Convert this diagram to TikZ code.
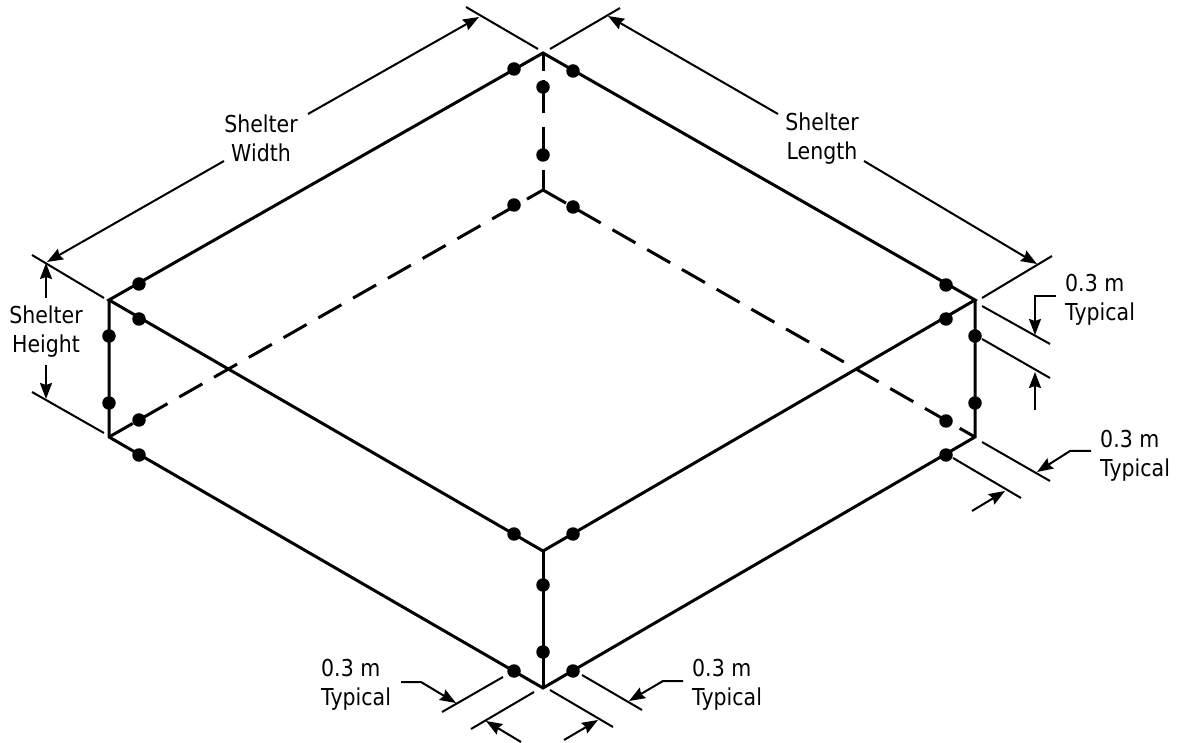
\documentclass[tikz,border=0pt]{standalone}
\usepackage{fontspec}
\setmainfont[FakeStretch=0.88]{DejaVu Sans}
\usetikzlibrary{arrows.meta}
\begin{document}
\begin{tikzpicture}
[x=1pt, y=-1pt, e/.style={circle,fill=black,inner sep=0pt,minimum size=13.5pt},
box/.style={line width=3pt,line join=miter}, ext/.style={line width=2pt},
dim/.style={line width=2pt,-{Stealth[length=16pt,width=12pt,inset=2pt]}},
lbl/.style={inner sep=0pt,align=center,font=\fontsize{23.3}{29}\selectfont},
lbll/.style={lbl,align=left,anchor=west}]
\useasboundingbox (0,0) rectangle (1179,743);
\coordinate(T) at (543,53);\coordinate(L) at (109,300);\coordinate(R) at (975,300);\coordinate(F) at (543,551);
\coordinate(K) at (543,190);\coordinate(LB) at (109,437);\coordinate(RB) at (975,437);\coordinate(B) at (543,688);
\draw[box](T)--(R)--(F)--(L)--cycle;\draw[box](L)--(LB)--(B)--(RB)--(R);\draw[box](F)--(B);
\draw[box,dash pattern=on 18pt off 9pt on 33pt off 14pt on 34pt off 9pt on 20pt off 9pt](T)--(K);
\draw[box,dash pattern=on 26.5pt off 13.5pt,dash phase=8pt](K)--(LB);
\draw[box,dash pattern=on 26.5pt off 13.5pt](K)--(RB);
\node(a) at (514,69)[e]{};\node(b) at (573,71)[e]{};\node(c) at (543,87)[e]{};\node(d) at (543,155)[e]{};
\node(f) at (514,205)[e]{};\node(g) at (573,207)[e]{};\node(h) at (139,284)[e]{};\node(i) at (139,319)[e]{};
\node(j) at (109,336)[e]{};\node(k) at (109,403)[e]{};\node(l) at (139,420)[e]{};\node(m) at (139,455)[e]{};
\node(n) at (946,285)[e]{};\node(o) at (946,319)[e]{};\node(p) at (975,336)[e]{};\node(q) at (975,403)[e]{};
\node(r) at (946,421)[e]{};\node(s) at (946,455)[e]{};\node(t) at (514,534)[e]{};\node(u) at (573,534)[e]{};
\node(v) at (543,585)[e]{};\node(w) at (543,652)[e]{};\node(x) at (514,671)[e]{};\node(y) at (573,671)[e]{};
\coordinate(e1a) at (466,7);\coordinate(e1b) at (538,49);\coordinate(e2a) at (620,8);\coordinate(e2b) at (550,49);
\coordinate(e3a) at (32,255);\coordinate(e3b) at (104,298);\coordinate(e4a) at (32,392);\coordinate(e4b) at (104,433);
\coordinate(e5a) at (1052,256);\coordinate(e5b) at (982,298);\coordinate(e6a) at (1050,344);\coordinate(e6b) at (982,306);
\coordinate(e7a) at (1050,378);\coordinate(e7b) at (982,339);\coordinate(e8a) at (1050,481);\coordinate(e8b) at (982,442);
\coordinate(e9a) at (1021,498);\coordinate(e9b) at (953,458);\coordinate(e10a) at (442,712);\coordinate(e10b) at (503,677);
\coordinate(e11a) at (471,729);\coordinate(e11b) at (534,692);\coordinate(e12a) at (613,727);\coordinate(e12b) at (550,690);
\coordinate(e13a) at (642,710);\coordinate(e13b) at (582,675);
\draw[ext](e1a)--(e1b);\draw[ext](e2a)--(e2b);\draw[ext](e3a)--(e3b);\draw[ext](e4a)--(e4b);\draw[ext](e5a)--(e5b);
\draw[ext](e6a)--(e6b);\draw[ext](e7a)--(e7b);\draw[ext](e8a)--(e8b);\draw[ext](e9a)--(e9b);\draw[ext](e10a)--(e10b);
\draw[ext](e11a)--(e11b);\draw[ext](e12a)--(e12b);\draw[ext](e13a)--(e13b);
\node[lbl](width) at (261,138){Shelter\\Width};\node[lbl](length) at (822,139){Shelter\\Length};
\node[lbl](height) at (46,332){Shelter\\Height};
\node[lbll](typ1) at (1065,300){0.3 m\\Typical};\node[lbll](typ2) at (1100,456){0.3 m\\Typical};
\node[lbll](typ3) at (321,685){0.3 m\\Typical};\node[lbll](typ4) at (692,685){0.3 m\\Typical};
\coordinate(w1) at (308,114);\coordinate(w2) at (479,17);\coordinate(w3) at (224,161);\coordinate(w4) at (47,262);
\coordinate(l1) at (778,114);\coordinate(l2) at (608,16);\coordinate(l3) at (864,161);\coordinate(l4) at (1037,264);
\coordinate(h1) at (46,298);\coordinate(h2) at (46,263);\coordinate(h3) at (46,365);\coordinate(h4) at (46,399);
\draw[dim](w1)--(w2);\draw[dim](w3)--(w4);\draw[dim](l1)--(l2);\draw[dim](l3)--(l4);\draw[dim](h1)--(h2);\draw[dim](h3)--(h4);
\coordinate(a1) at (1056,296);\coordinate(a2) at (1035,296);\coordinate(a3) at (1035,335);
\coordinate(a4) at (1035,410);\coordinate(a5) at (1035,372);
\coordinate(a6) at (1091,451);\coordinate(a7) at (1070,451);\coordinate(a8) at (1037,472);
\coordinate(a9) at (972,511);\coordinate(a10) at (1005,491);
\coordinate(b1) at (401,682);\coordinate(b2) at (421,682);\coordinate(b3) at (456,703);
\coordinate(b4) at (521,742);\coordinate(b5) at (486,721);
\coordinate(b6) at (564,740);\coordinate(b7) at (598,720);
\coordinate(b8) at (683,681);\coordinate(b9) at (663,681);\coordinate(b10) at (629,701);
\draw[dim](a1)--(a2)--(a3);\draw[dim](a4)--(a5);\draw[dim](a6)--(a7)--(a8);\draw[dim](a9)--(a10);
\draw[dim](b1)--(b2)--(b3);\draw[dim](b4)--(b5);\draw[dim](b6)--(b7);\draw[dim](b8)--(b9)--(b10);
\end{tikzpicture}
\end{document}
